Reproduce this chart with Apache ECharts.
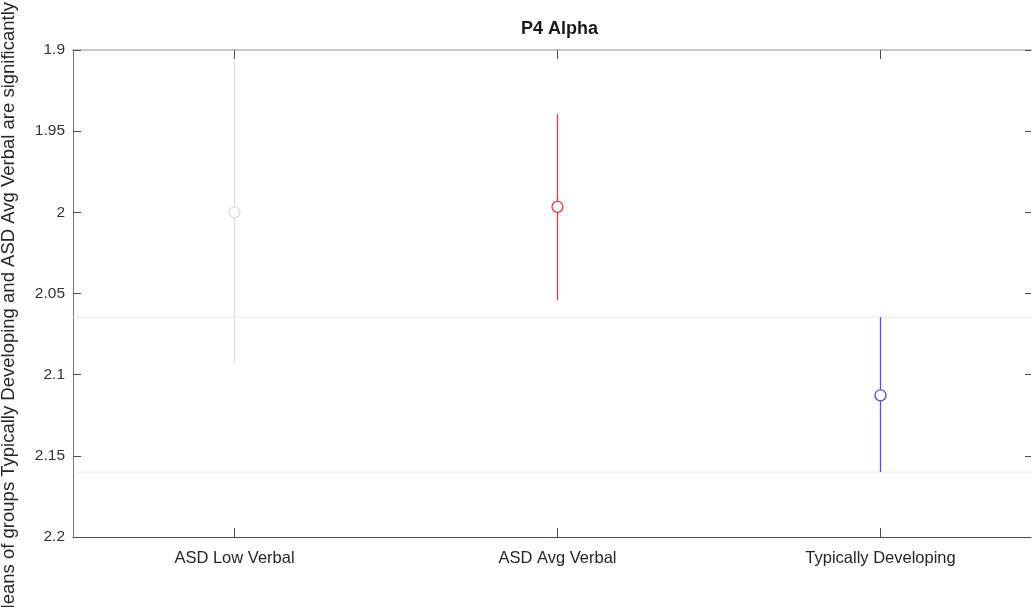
<!DOCTYPE html>
<html>
<head>
<meta charset="utf-8">
<script src="https://cdn.jsdelivr.net/npm/echarts@6/dist/echarts.min.js"></script>
<style>html,body{margin:0;padding:0;background:#fff;}#chart{width:1033px;height:607px;}</style>
</head>
<body>
<div id="chart"></div>
<script>
const categories = ['ASD Low Verbal', 'ASD Avg Verbal', 'Typically Developing'];
const positions = [1, 2, 3];
const means = [2.000, 1.9966, 2.1127];
const lower = [1.907, 1.9395, 2.0646];
const upper = [2.093, 2.054, 2.160];
const colors = ['#dedede', '#e43c3c', '#4f4fe0'];
const yTicks = [1.9, 1.95, 2, 2.05, 2.1, 2.15, 2.2];
const yLabel = 'Means of groups Typically Developing and ASD Avg Verbal are significantly different';
const title = 'P4 Alpha';
const refGroup = 2;

const xMin = 0.5, xMax = 3.466;
const chart = echarts.init(document.getElementById('chart'));
const font = 'Liberation Sans, Arial, Helvetica, sans-serif';
const data = positions.map((p, i) => [p, lower[i], upper[i], means[i], i]);

const refSeries = [lower[refGroup], upper[refGroup]].map(v => ({
  type: 'line',
  xAxisIndex: 0, yAxisIndex: 0,
  data: [[xMin, v], [xMax, v]],
  symbol: 'none', silent: true,
  lineStyle: { color: '#c4c4c4', type: [1.5, 2.5], width: 1 },
  z: 1
}));

chart.setOption({
  animation: false,
  title: {
    text: title, left: 516, top: 15,
    textStyle: { fontFamily: font, fontSize: 18, fontWeight: 'bold', color: '#1a1a1a' }
  },
  graphic: [{
    type: 'text',
    x: 9, y: 275,
    rotation: Math.PI / 2,
    style: {
      text: yLabel, fontFamily: font, fontSize: 18.5, fill: '#262626',
      align: 'center', verticalAlign: 'middle'
    }
  }],
  grid: { left: 73, right: 2, top: 50, bottom: 70, outerBoundsMode: 'none', containLabel: false },
  xAxis: [{
    type: 'value', min: xMin, max: xMax, position: 'bottom',
    axisLine: { show: true, onZero: false, lineStyle: { color: '#4d4d4d', width: 1 } },
    axisTick: { show: true, inside: true, length: 9, customValues: positions, lineStyle: { color: '#4d4d4d' } },
    axisLabel: {
      customValues: positions, margin: 13,
      formatter: v => categories[positions.indexOf(v)] || '',
      fontFamily: font, fontSize: 16.5, color: '#262626'
    },
    splitLine: { show: false }
  }, {
    type: 'value', min: xMin, max: xMax, position: 'top',
    axisLine: { show: true, onZero: false, lineStyle: { color: '#c8c8c8', width: 2 } },
    axisTick: { show: true, inside: true, length: 9, customValues: positions, lineStyle: { color: '#4d4d4d' } },
    axisLabel: { show: false },
    splitLine: { show: false }
  }],
  yAxis: [{
    type: 'value', inverse: true, min: 1.9, max: 2.2, interval: 0.05,
    position: 'left',
    axisLine: { show: true, onZero: false, lineStyle: { color: '#7a7a7a' } },
    axisTick: { show: true, inside: true, length: 8, lineStyle: { color: '#4d4d4d' } },
    axisLabel: {
      margin: 8, fontFamily: font, fontSize: 15.5, color: '#333333',
      formatter: v => String(+v.toFixed(2))
    },
    splitLine: { show: false }
  }, {
    type: 'value', inverse: true, min: 1.9, max: 2.2, interval: 0.05,
    position: 'right',
    axisLine: { show: false },
    axisTick: { show: true, inside: true, length: 6, lineStyle: { color: '#4d4d4d' } },
    axisLabel: { show: false },
    splitLine: { show: false }
  }],
  series: [{
    type: 'custom',
    xAxisIndex: 0, yAxisIndex: 0,
    clip: true,
    data: data,
    renderItem: (params, api) => {
      const x = api.value(0);
      const top = api.coord([x, api.value(1)]);
      const bot = api.coord([x, api.value(2)]);
      const mid = api.coord([x, api.value(3)]);
      const c = colors[api.value(4)];
      return {
        type: 'group',
        children: [{
          type: 'line',
          shape: { x1: top[0], y1: top[1], x2: bot[0], y2: bot[1] },
          style: { stroke: c, lineWidth: 1.3 }
        }, {
          type: 'circle',
          shape: { cx: mid[0], cy: mid[1], r: 5.5 },
          style: { fill: '#fff', stroke: c, lineWidth: 1.3 }
        }]
      };
    },
    z: 3
  }].concat(refSeries)
});
</script>
</body>
</html>
